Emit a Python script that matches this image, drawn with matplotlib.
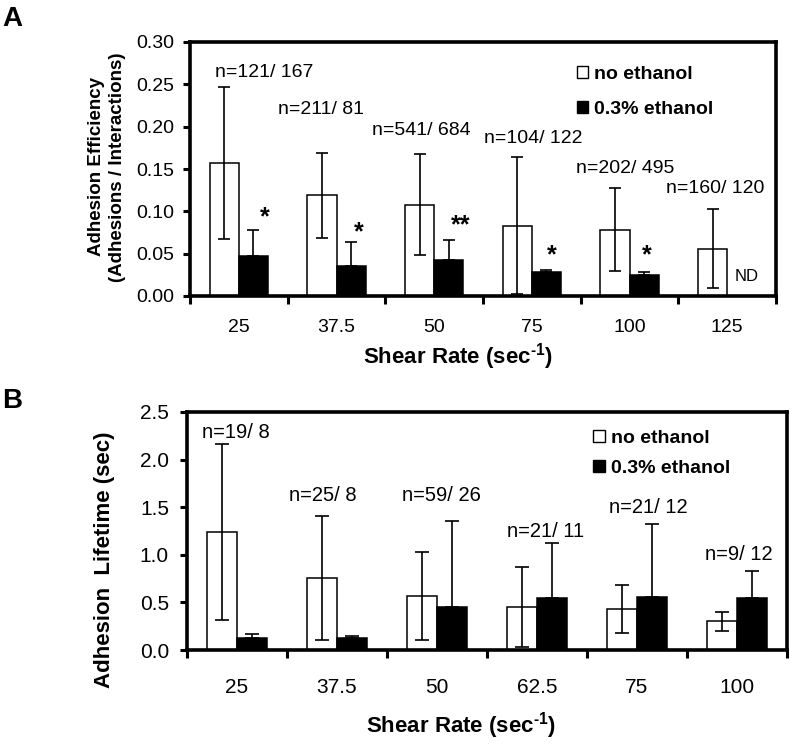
import numpy as np
import matplotlib
matplotlib.use('Agg')
import matplotlib.pyplot as plt
from matplotlib.patches import Patch
from matplotlib.ticker import FormatStrFormatter

plt.rcParams['font.family'] = ['Liberation Sans', 'DejaVu Sans']
plt.rcParams['mathtext.fontset'] = 'custom'
plt.rcParams['mathtext.rm'] = 'Liberation Sans'
plt.rcParams['mathtext.bf'] = 'Liberation Sans:bold'

# ---------------- data: panel A ----------------
A_cats = ['25', '37.5', '50', '75', '100', '125']
A_no = [0.157, 0.119, 0.108, 0.083, 0.078, 0.056]
A_no_err = [0.090, 0.050, 0.060, 0.081, 0.049, 0.047]
A_eth = [0.047, 0.036, 0.042, 0.028, 0.025, np.nan]
A_eth_err = [0.031, 0.028, 0.024, 0.003, 0.003, np.nan]
A_n = ['n=121/ 167', 'n=211/ 81', 'n=541/ 684', 'n=104/ 122', 'n=202/ 495', 'n=160/ 120']
A_sig = ['*', '*', '**', '*', '*', 'ND']

# ---------------- data: panel B ----------------
B_cats = ['25', '37.5', '50', '62.5', '75', '100']
B_no = [1.24, 0.76, 0.57, 0.45, 0.43, 0.30]
B_no_err = [0.92, 0.65, 0.46, 0.42, 0.255, 0.10]
B_eth = [0.13, 0.13, 0.45, 0.55, 0.56, 0.55]
B_eth_err = [0.04, 0.015, 0.90, 0.57, 0.765, 0.285]
B_n = ['n=19/ 8', 'n=25/ 8', 'n=59/ 26', 'n=21/ 11', 'n=21/ 12', 'n=9/ 12']

legend_labels = ['no ethanol', '0.3% ethanol']
xlabel = 'Shear Rate (sec$^{\\mathbf{\u20101}}$)'

# ---------------- layout (label placement) ----------------
A_nlab_dx = [0.26, -0.16, -0.13, 0.01, -0.04, -0.12]
A_nlab_y = [0.2587, 0.2155, 0.1900, 0.1805, 0.1450, 0.1215]
A_sig_dx = [0.27, 0.23, 0.27, 0.20, 0.18, 0.20]
A_sig_y = [0.0844, 0.0667, 0.0750, 0.0396, 0.0396, 0.0177]
B_nlab_dx = [-0.01, -0.145, 0.04, 0.09, 0.11, 0.02]
B_nlab_y = [2.227, 1.565, 1.565, 1.187, 1.439, 0.945]

fig = plt.figure(figsize=(8, 7.45), dpi=100)
axA = fig.add_axes([190/800, 1-296/745, 586/800, 254/745])
axB = fig.add_axes([187/800, 1-650/745, 600/800, 238/745])

W = 0.3


def draw(ax, cats, no, no_err, eth, eth_err, ymax, ystep, fmt, tickfs, capsize,
         xpad, ypad):
    x = np.arange(len(cats))
    eth = np.array(eth, float)
    eth_err = np.array(eth_err, float)
    ax.bar(x - W/2, no, W, color='white', edgecolor='black', linewidth=1.1, zorder=2)
    ax.bar(x + W/2, eth, W, color='black', edgecolor='black', linewidth=1.1, zorder=2)
    ax.errorbar(x - W/2, no, yerr=no_err, fmt='none', ecolor='black',
                elinewidth=1.2, capsize=capsize, capthick=1.2, zorder=3)
    ax.errorbar(x + W/2, eth, yerr=[np.zeros_like(eth_err), eth_err], fmt='none',
                ecolor='black', elinewidth=1.2, capsize=capsize, capthick=1.2, zorder=3)
    ax.set_xlim(-0.5, len(cats) - 0.5)
    ax.set_ylim(0, ymax)
    ax.set_yticks(np.arange(0, ymax + ystep/2, ystep))
    ax.yaxis.set_major_formatter(FormatStrFormatter(fmt))
    ax.set_xticks(np.arange(len(cats) + 1) - 0.5)
    ax.set_xticklabels([])
    ax.set_xticks(x, minor=True)
    ax.set_xticklabels(cats, minor=True)
    ax.tick_params(axis='x', which='major', direction='out', length=6, width=2.2)
    ax.tick_params(axis='x', which='minor', length=0, pad=xpad, labelsize=tickfs)
    ax.tick_params(axis='y', direction='out', length=5, width=2.2, pad=ypad,
                   labelsize=tickfs)
    for s in ax.spines.values():
        s.set_linewidth(2.6)
    return x


def legend(ax, anchor, spacing):
    handles = [Patch(facecolor='white', edgecolor='black', linewidth=1.0),
               Patch(facecolor='black', edgecolor='black', linewidth=1.0)]
    ax.legend(handles, legend_labels, loc='upper left', bbox_to_anchor=anchor,
              frameon=False, prop={'weight': 'bold', 'size': 14},
              handlelength=0.6, handleheight=0.6, handletextpad=0.3,
              labelspacing=spacing, borderpad=0, borderaxespad=0)


# ---------------- panel A ----------------
xA = draw(axA, A_cats, A_no, A_no_err, A_eth, A_eth_err, 0.30, 0.05, '%.2f',
          14, 4.5, 16.5, 6.5)
for i, t in enumerate(A_n):
    axA.text(xA[i] + A_nlab_dx[i], A_nlab_y[i], t, ha='center', va='baseline',
             fontsize=14)
for i, t in enumerate(A_sig):
    if t == 'ND':
        axA.text(xA[i] + A_sig_dx[i], A_sig_y[i], t, ha='center', va='baseline',
                 fontsize=12)
    else:
        axA.text(xA[i] + A_sig_dx[i], A_sig_y[i], t, ha='center', va='baseline',
                 fontsize=18, fontweight='bold')
legend(axA, (0.66, 0.905), 0.91)
axA.set_ylabel('Adhesion Efficiency\n(Adhesions / Interactions)', fontsize=13.5,
               fontweight='bold', va='center', ha='center', multialignment='center',
               linespacing=1.35)
axA.yaxis.set_label_coords(-0.142, 0.508)
axA.set_xlabel(xlabel, fontsize=16, fontweight='bold', va='baseline')
axA.xaxis.set_label_coords(0.457, -0.264)

# ---------------- panel B ----------------
xB = draw(axB, B_cats, B_no, B_no_err, B_eth, B_eth_err, 2.5, 0.5, '%.1f',
          15, 5, 20, 8)
for i, t in enumerate(B_n):
    axB.text(xB[i] + B_nlab_dx[i], B_nlab_y[i], t, ha='center', va='baseline',
             fontsize=14.5)
legend(axB, (0.677, 0.924), 0.65)
axB.set_ylabel('Adhesion  Lifetime (sec)', fontsize=16, fontweight='bold',
               va='center', ha='center')
axB.yaxis.set_label_coords(-0.138, 0.378)
axB.set_xlabel(xlabel, fontsize=16, fontweight='bold', va='baseline')
axB.xaxis.set_label_coords(0.457, -0.345)

fig.text(12/800, 1-19/745, 'A', fontsize=20, fontweight='bold', ha='center', va='center')
fig.text(12/800, 1-401/745, 'B', fontsize=20, fontweight='bold', ha='center', va='center')

fig.savefig('out.png', dpi=100)
